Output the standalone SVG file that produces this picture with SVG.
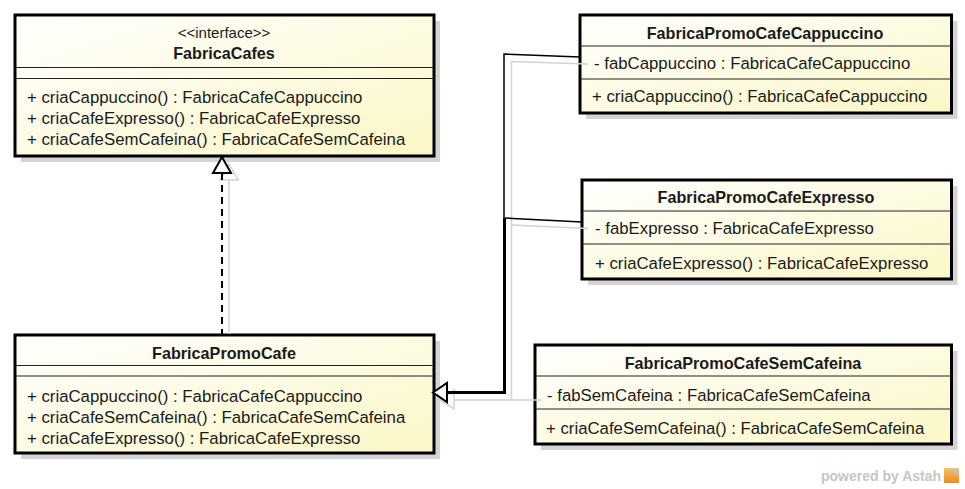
<svg xmlns="http://www.w3.org/2000/svg" width="965" height="489" viewBox="0 0 965 489">
<defs>
<linearGradient id="fill" x1="0" y1="0" x2="1" y2="1">
<stop offset="0" stop-color="#ffffff"/>
<stop offset="1" stop-color="#fbf7c6"/>
</linearGradient>
<linearGradient id="logo" x1="0" y1="0" x2="0" y2="1">
<stop offset="0" stop-color="#f7c36a"/>
<stop offset="1" stop-color="#ee8a1c"/>
</linearGradient>
</defs>
<style>
text{font-family:"Liberation Sans",Arial,sans-serif;fill:#1a1a1a;}
.t{font-size:16.8px;}
.n{font-size:16.2px;font-weight:bold;text-anchor:middle;}
.s{font-size:15px;text-anchor:middle;}
.box{fill:url(#fill);stroke:#000;stroke-width:3;}
.sh{fill:#d4d4d4;}
.sep{stroke:#222;stroke-width:1;}
.gl{fill:none;stroke:#d2d2d2;stroke-width:1.5;}
.bl{fill:none;stroke:#000;stroke-width:1.5;}
.wm{font-size:14px;font-weight:bold;fill:#c6c6c6;}
</style>
<rect x="0" y="0" width="965" height="489" fill="#ffffff"/>

<g id="shadows">
<rect class="sh" x="21" y="21" width="419" height="141"/>
<rect class="sh" x="21" y="341" width="419" height="118"/>
<rect class="sh" x="586" y="21" width="371.5" height="98"/>
<rect class="sh" x="588" y="186" width="369.5" height="99"/>
<rect class="sh" x="541" y="351" width="416.5" height="99"/>
</g>

<g id="FabricaCafes">
<rect class="box" x="15" y="15" width="419" height="141"/>
<line class="sep" x1="15" y1="67.5" x2="434" y2="67.5"/>
<line class="sep" x1="15" y1="78.5" x2="434" y2="78.5"/>
<text class="s" x="224" y="38">&lt;&lt;interface&gt;&gt;</text>
<text class="n" x="224" y="59">FabricaCafes</text>
<text class="t" x="27" y="103">+ criaCappuccino() : FabricaCafeCappuccino</text>
<text class="t" x="27" y="124">+ criaCafeExpresso() : FabricaCafeExpresso</text>
<text class="t" x="27" y="145">+ criaCafeSemCafeina() : FabricaCafeSemCafeina</text>
</g>

<g id="FabricaPromoCafe">
<rect class="box" x="15" y="335" width="419" height="118"/>
<line class="sep" x1="15" y1="365.5" x2="434" y2="365.5"/>
<line class="sep" x1="15" y1="376" x2="434" y2="376"/>
<text class="n" x="224" y="358.5">FabricaPromoCafe</text>
<text class="t" x="27" y="402">+ criaCappuccino() : FabricaCafeCappuccino</text>
<text class="t" x="27" y="423">+ criaCafeSemCafeina() : FabricaCafeSemCafeina</text>
<text class="t" x="27" y="444">+ criaCafeExpresso() : FabricaCafeExpresso</text>
</g>

<g id="FabricaPromoCafeCappuccino">
<rect class="box" x="580" y="15" width="371.5" height="98"/>
<line class="sep" x1="580" y1="46" x2="951.5" y2="46"/>
<line class="sep" x1="580" y1="79" x2="951.5" y2="79"/>
<text class="n" x="765" y="38.5">FabricaPromoCafeCappuccino</text>
<text class="t" x="594" y="69">- fabCappuccino : FabricaCafeCappuccino</text>
<text class="t" x="592" y="102">+ criaCappuccino() : FabricaCafeCappuccino</text>
</g>

<g id="FabricaPromoCafeExpresso">
<rect class="box" x="582" y="180" width="369.5" height="99"/>
<line class="sep" x1="582" y1="211" x2="951.5" y2="211"/>
<line class="sep" x1="582" y1="244" x2="951.5" y2="244"/>
<text class="n" x="766" y="203">FabricaPromoCafeExpresso</text>
<text class="t" x="595" y="234">- fabExpresso : FabricaCafeExpresso</text>
<text class="t" x="595" y="269">+ criaCafeExpresso() : FabricaCafeExpresso</text>
</g>

<g id="FabricaPromoCafeSemCafeina">
<rect class="box" x="535" y="345" width="416.5" height="99"/>
<line class="sep" x1="535" y1="376" x2="951.5" y2="376"/>
<line class="sep" x1="535" y1="409" x2="951.5" y2="409"/>
<text class="n" x="743" y="369">FabricaPromoCafeSemCafeina</text>
<text class="t" x="547" y="400.5">- fabSemCafeina : FabricaCafeSemCafeina</text>
<text class="t" x="546" y="434">+ criaCafeSemCafeina() : FabricaCafeSemCafeina</text>
</g>

<g id="connectors">
<path class="gl" d="M229,180 L229,334"/>
<polygon points="229,164 220,180 238,180" fill="#ffffff" stroke="#d2d2d2" stroke-width="1.5"/>
<path class="gl" d="M588,64 L511.5,61.5 L511.5,400"/>
<path class="gl" d="M588,228.5 L511.5,225"/>
<path class="gl" d="M542,400 L454,400"/>
<polygon points="440,400 454,390 454,409" fill="#ffffff" stroke="#d2d2d2" stroke-width="1.5"/>
<line x1="222" y1="173" x2="222" y2="335" stroke="#000" stroke-width="2" stroke-dasharray="7,5"/>
<polygon points="222,157 213,173 231,173" fill="#ffffff" stroke="#000" stroke-width="2"/>
<path class="bl" d="M580,57 L504,54 L504,218"/>
<path class="bl" d="M582,222 L505,218"/>
<path d="M504.5,218 L504.5,392.5 L446,392.5" fill="none" stroke="#000" stroke-width="3"/>
<polygon points="433,392.5 447,383 447,402" fill="#ffffff" stroke="#000" stroke-width="2"/>
</g>

<g id="watermark">
<text class="wm" x="821" y="481">powered by Astah</text>
<rect x="944" y="468" width="15" height="15" fill="url(#logo)"/>
<path d="M950,470 L958,470 L958,476 Z" fill="#9fc7e8"/>
</g>
</svg>
